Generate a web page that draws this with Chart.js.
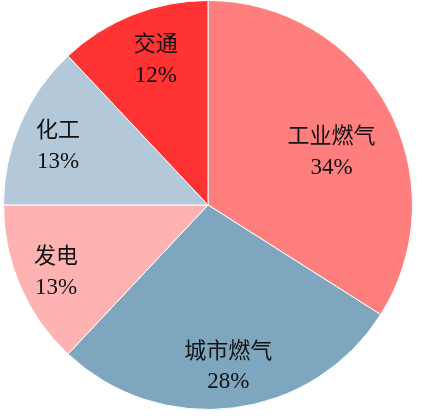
<!DOCTYPE html>
<html>
<head>
<meta charset="utf-8">
<script src="https://cdn.jsdelivr.net/npm/chart.js@4.4.1/dist/chart.umd.min.js"></script>
<style>
  html, body { margin: 0; padding: 0; background: #fff; }
  #wrap { width: 422px; height: 420px; }
</style>
</head>
<body>
<div id="wrap"><canvas id="chart" width="422" height="420"></canvas></div>
<script>
const categories = ['工业燃气', '城市燃气', '发电', '化工', '交通'];
const shares = [34, 28, 13, 13, 12];

const sliceColors = ['#FF7F7F', '#7FA6BF', '#FFB2B2', '#B3C8D8', '#FF3333'];
// label placement: fraction of radius, angle shift in degrees
const labelPlace = [[0.66, 5], [0.79, 0], [0.81, 0], [0.79, -1.5], [0.76, 2]];

const sliceLabels = {
    id: 'sliceLabels',
    afterDatasetsDraw(chart) {
        const ctx = chart.ctx;
        const meta = chart.getDatasetMeta(0);
        ctx.save();
        ctx.fillStyle = '#111';
        ctx.textAlign = 'center';
        ctx.textBaseline = 'middle';
        meta.data.forEach((arc, i) => {
            const p = arc.getProps(['x', 'y', 'startAngle', 'endAngle', 'outerRadius'], true);
            const [frac, shift] = labelPlace[i];
            const a = (p.startAngle + p.endAngle) / 2 + shift * Math.PI / 180;
            const r = p.outerRadius * frac;
            const x = p.x + Math.cos(a) * r;
            const y = p.y + Math.sin(a) * r;
            ctx.font = '22px "Noto Sans CJK SC"';
            ctx.fillText(categories[i], x, y - 16);
            ctx.font = '23px "Liberation Serif"';
            ctx.fillText(shares[i] + '%', x, y + 17);
        });
        ctx.restore();
    }
};

new Chart(document.getElementById('chart').getContext('2d'), {
    type: 'pie',
    data: {
        labels: categories,
        datasets: [{
            data: shares,
            backgroundColor: sliceColors,
            borderColor: '#ffffff',
            borderWidth: 1
        }]
    },
    options: {
        responsive: false,
        animation: false,
        rotation: 0,
        layout: { padding: { left: 3, right: 9, top: 0, bottom: 10 } },
        plugins: {
            legend: { display: false },
            tooltip: { enabled: false }
        }
    },
    plugins: [sliceLabels]
});
</script>
</body>
</html>
